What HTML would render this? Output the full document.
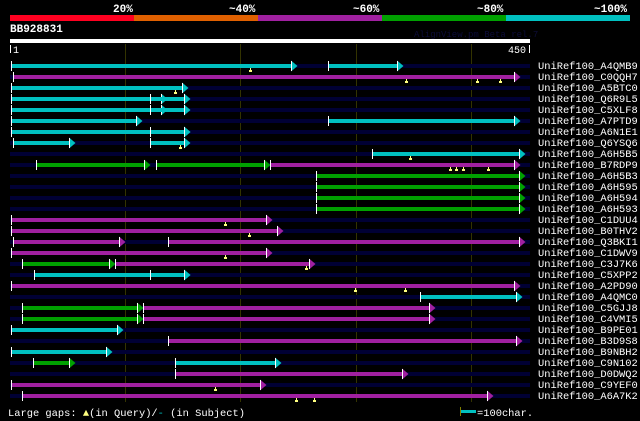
<!DOCTYPE html>
<html><head><meta charset="utf-8"><style>
html,body{margin:0;padding:0;background:#000;width:640px;height:421px;overflow:hidden}
svg{display:block}
text{font-family:"Liberation Mono",monospace;fill:#fff}
</style></head><body>
<svg id="s" width="640" height="421" viewBox="0 0 640 421" xmlns="http://www.w3.org/2000/svg" shape-rendering="crispEdges">
<rect width="640" height="421" fill="#000"/>
<text x="113" y="12" font-size="11" font-weight="bold">20%</text>
<text x="229" y="12" font-size="11" font-weight="bold">~40%</text>
<text x="353" y="12" font-size="11" font-weight="bold">~60%</text>
<text x="477" y="12" font-size="11" font-weight="bold">~80%</text>
<text x="594" y="12" font-size="11" font-weight="bold">~100%</text>
<rect x="10" y="15" width="124" height="6" fill="#ff0020"/>
<rect x="134" y="15" width="124" height="6" fill="#e06000"/>
<rect x="258" y="15" width="124" height="6" fill="#a020a0"/>
<rect x="382" y="15" width="124" height="6" fill="#00a000"/>
<rect x="506" y="15" width="124" height="6" fill="#00c0c0"/>
<text x="10" y="32" font-size="11" font-weight="bold">BB928831</text>
<text x="414" y="37" font-size="9" style="fill:#0c0c38">AlignView.pm Beta rel.7</text>
<rect x="10" y="39" width="520" height="4" fill="#fff"/>
<rect x="10" y="45" width="1" height="8" fill="#fff"/>
<text x="13" y="53" font-size="10">1</text>
<text x="508" y="53" font-size="10">450</text>
<rect x="529" y="45" width="1" height="8" fill="#fff"/>
<g id="g"></g>
<g font-size="10.4">
<text x="538" y="69">UniRef100_A4QMB9</text>
<text x="538" y="80">UniRef100_C0QQH7</text>
<text x="538" y="91">UniRef100_A5BTC0</text>
<text x="538" y="102">UniRef100_Q6R9L5</text>
<text x="538" y="113">UniRef100_C5XLF8</text>
<text x="538" y="124">UniRef100_A7PTD9</text>
<text x="538" y="135">UniRef100_A6N1E1</text>
<text x="538" y="146">UniRef100_Q6YSQ6</text>
<text x="538" y="157">UniRef100_A6H5B5</text>
<text x="538" y="168">UniRef100_B7RDP9</text>
<text x="538" y="179">UniRef100_A6H5B3</text>
<text x="538" y="190">UniRef100_A6H595</text>
<text x="538" y="201">UniRef100_A6H594</text>
<text x="538" y="212">UniRef100_A6H593</text>
<text x="538" y="223">UniRef100_C1DUU4</text>
<text x="538" y="234">UniRef100_B0THV2</text>
<text x="538" y="245">UniRef100_Q3BKI1</text>
<text x="538" y="256">UniRef100_C1DWV9</text>
<text x="538" y="267">UniRef100_C3J7K6</text>
<text x="538" y="278">UniRef100_C5XPP2</text>
<text x="538" y="289">UniRef100_A2PD90</text>
<text x="538" y="300">UniRef100_A4QMC0</text>
<text x="538" y="311">UniRef100_C5GJJ8</text>
<text x="538" y="322">UniRef100_C4VMI5</text>
<text x="538" y="333">UniRef100_B9PE01</text>
<text x="538" y="344">UniRef100_B3D9S8</text>
<text x="538" y="355">UniRef100_B9NBH2</text>
<text x="538" y="366">UniRef100_C9N102</text>
<text x="538" y="377">UniRef100_D0DWQ2</text>
<text x="538" y="388">UniRef100_C9YEF0</text>
<text x="538" y="399">UniRef100_A6A7K2</text>
</g>
<text x="8" y="416" font-size="10.4">Large gaps: <tspan style="fill:#ffff80">▲</tspan>(in Query)/<tspan style="fill:#00c0c0">-</tspan> (in Subject)</text>
<rect x="461" y="410" width="15" height="3" fill="#00c0c0"/>
<rect x="460" y="407" width="1" height="9" fill="#808000"/>
<text x="477" y="416" font-size="10.4">=100char.</text>
</svg>
<script>
var C='#00c0c0',M='#a020a0',G='#00a000';
var rows=[
[[[11,297,C],[328,403,C]],[250]],
[[[13,520,M]],[406,477,500]],
[[[11,188,C]],[175]],
[[[11,167,C],[150,190,C]],[]],
[[[11,167,C],[150,190,C]],[]],
[[[11,142,C],[328,520,C]],[]],
[[[11,190,C],[150,190,C]],[]],
[[[13,75,C],[150,190,C]],[180]],
[[[372,525,C]],[410]],
[[[36,150,G],[156,270,G],[270,520,M]],[450,456,463,488]],
[[[316,525,G]],[]],
[[[316,525,G]],[]],
[[[316,525,G]],[]],
[[[316,525,G]],[]],
[[[11,272,M]],[225]],
[[[11,283,M]],[249]],
[[[13,125,M],[168,525,M]],[]],
[[[11,272,M]],[225]],
[[[22,115,G],[115,315,M]],[306]],
[[[34,190,C],[150,190,C]],[]],
[[[11,520,M]],[355,405]],
[[[420,522,C]],[]],
[[[22,143,G],[143,435,M]],[]],
[[[22,143,G],[143,435,M]],[]],
[[[11,123,C]],[]],
[[[168,522,M]],[]],
[[[11,112,C]],[]],
[[[33,75,G],[175,281,C]],[]],
[[[175,408,M]],[]],
[[[11,266,M]],[215]],
[[[22,493,M]],[296,314]]];
var h='';
[125,240,356,471].forEach(function(x){h+='<rect x="'+x+'" y="44" width="1" height="358" fill="#333300"/>';});
rows.forEach(function(r,i){
 var y=65+i*11;
 h+='<rect x="10" y="'+(y-1)+'" width="520" height="4" fill="#000034"/>';
 r[0].forEach(function(s){
  var a=s[0],b=s[1]-6,c=s[2];
  h+='<rect x="'+a+'" y="'+(y-1)+'" width="'+(b-a)+'" height="4" fill="'+c+'"/>';
  h+='<rect x="'+a+'" y="'+(y-4)+'" width="1" height="10" fill="#fff"/>';
  h+='<polygon shape-rendering="auto" points="'+b+','+(y-4.5)+' '+(b+6.5)+','+(y+1)+' '+b+','+(y+6.5)+'" fill="'+c+'"/>';
  h+='<rect x="'+b+'" y="'+(y-4)+'" width="1" height="10" fill="#fff"/>';
 });
 r[1].forEach(function(t){h+='<rect x="'+t+'" y="'+(y+3)+'" width="1" height="2" fill="#ffff80"/><rect x="'+(t-1)+'" y="'+(y+5)+'" width="3" height="2" fill="#ffff80"/>';});
});
document.getElementById('g').innerHTML=h;
</script>
</body></html>
